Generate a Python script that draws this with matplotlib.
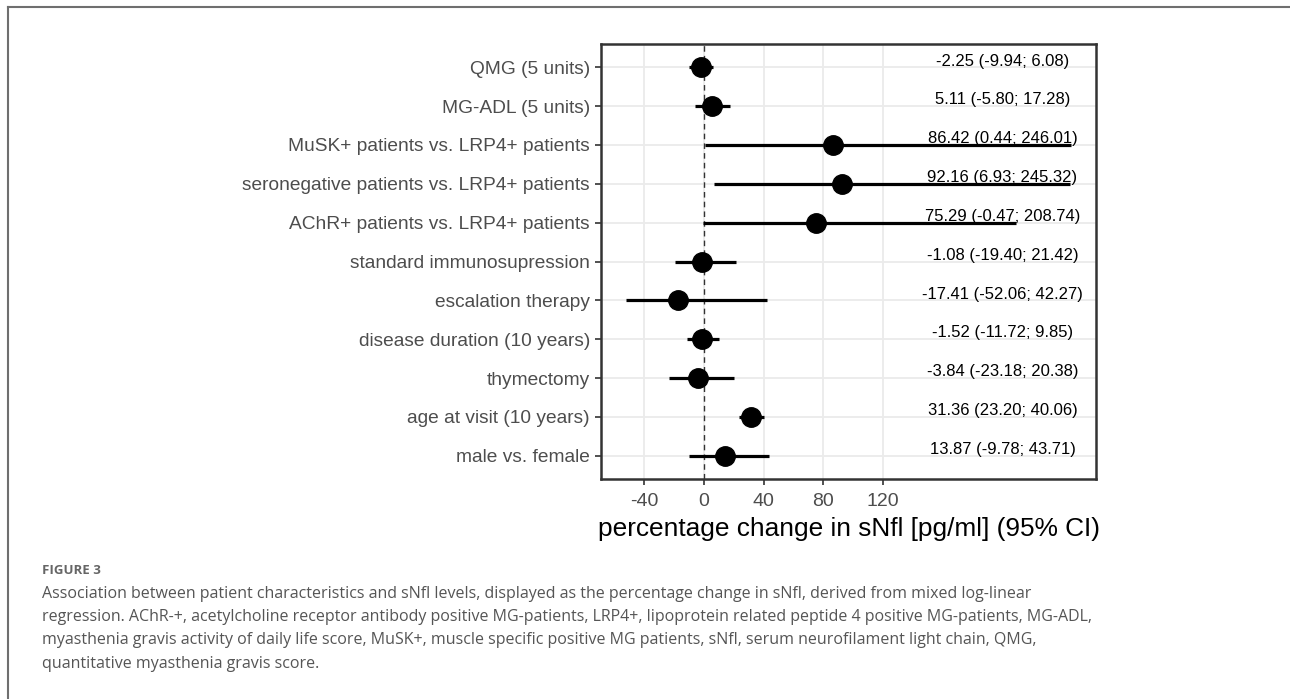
import matplotlib
matplotlib.use('Agg')
import matplotlib.pyplot as plt
from matplotlib.lines import Line2D
import numpy as np

# rows, top to bottom
labels = ['QMG (5 units)', 'MG-ADL (5 units)', 'MuSK+ patients vs. LRP4+ patients',
          'seronegative patients vs. LRP4+ patients', 'AChR+ patients vs. LRP4+ patients',
          'standard immunosupression', 'escalation therapy', 'disease duration (10 years)',
          'thymectomy', 'age at visit (10 years)', 'male vs. female']
estimate = [-2.25, 5.11, 86.42, 92.16, 75.29, -1.08, -17.41, -1.52, -3.84, 31.36, 13.87]
ci_low = [-9.94, -5.80, 0.44, 6.93, -0.47, -19.40, -52.06, -11.72, -23.18, 23.20, -9.78]
ci_high = [6.08, 17.28, 246.01, 245.32, 208.74, 21.42, 42.27, 9.85, 20.38, 40.06, 43.71]
x_ticks = [-40, 0, 40, 80, 120]

caption = ('Association between patient characteristics and sNfl levels, displayed as the percentage change in sNfl, derived from mixed log-linear\n'
           'regression. AChR-+, acetylcholine receptor antibody positive MG-patients, LRP4+, lipoprotein related peptide 4 positive MG-patients, MG-ADL,\n'
           'myasthenia gravis activity of daily life score, MuSK+, muscle specific positive MG patients, sNfl, serum neurofilament light chain, QMG,\n'
           'quantitative myasthenia gravis score.')

plt.rcParams['font.family'] = ['Liberation Sans', 'DejaVu Sans']

W, H = 1290, 699
fig = plt.figure(figsize=(W / 100, H / 100), dpi=100)
ax = fig.add_axes([601 / W, 1 - 479 / H, (1096 - 601) / W, (479 - 44) / H])

n = len(labels)
ypos = np.arange(n)[::-1]

ax.axvline(0, color='#333333', lw=1, ls=(0, (4, 3)), zorder=2)
ax.hlines(ypos, ci_low, ci_high, color='black', lw=2.3, zorder=3)
ax.plot(estimate, ypos, 'o', color='black', ms=14, zorder=4)

for y, e, lo, hi in zip(ypos, estimate, ci_low, ci_high):
    ax.text(200, y + 0.16, f'{e:.2f} ({lo:.2f}; {hi:.2f})', ha='center', va='center',
            fontsize=12, color='black', zorder=5)

ax.set_xlim(-69, 262.6)
ax.set_ylim(-0.6, n - 0.4)
ax.set_xticks(x_ticks)
ax.set_xticklabels([str(t) for t in x_ticks])
ax.set_yticks(ypos)
ax.set_yticklabels(labels)
ax.tick_params(axis='both', length=4, width=1.2, color='#333333', labelcolor='#4D4D4D',
               labelsize=13.8, pad=4)
ax.tick_params(axis='x', pad=6, labelsize=14)
ax.grid(True, color='#EBEBEB', lw=1.3, zorder=0)
ax.set_axisbelow(True)
for sp in ax.spines.values():
    sp.set_color('#333333')
    sp.set_linewidth(1.8)
ax.set_xlabel('percentage change in sNfl [pg/ml] (95% CI)', fontsize=18.9, color='black', labelpad=5)

# page frame
fig.add_artist(Line2D([8 / W, 8 / W], [0, 1 - 7 / H], color='#6f6f6f', lw=1.5))
fig.add_artist(Line2D([8 / W, 1], [1 - 7 / H, 1 - 7 / H], color='#6f6f6f', lw=1.5))

fig.text(42 / W, 1 - 570 / H, 'FIGURE 3', fontsize=9.5, fontweight='bold', color='#666666',
         family=['Open Sans', 'DejaVu Sans'], va='center')
fig.text(42 / W, 1 - 586 / H, caption, fontsize=11.5, color='#555555', va='top',
         family=['Open Sans', 'DejaVu Sans'], linespacing=1.6)

fig.savefig('out.png', dpi=100)
